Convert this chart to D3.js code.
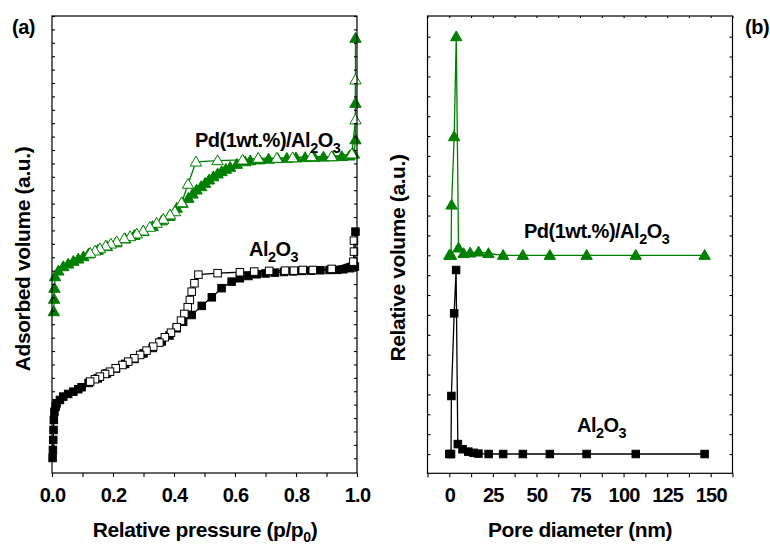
<!DOCTYPE html>
<html><head><meta charset="utf-8">
<script src="https://cdnjs.cloudflare.com/ajax/libs/d3/7.8.5/d3.min.js"></script>
<style>
body{margin:0;background:#fff;}
svg text{font-family:"Liberation Sans",Arial,sans-serif;font-weight:bold;fill:#000;}
</style></head><body>
<svg id="chart" width="770" height="544"></svg>
<script>
// ---- (a) N2 adsorption-desorption isotherms: relative pressure p/p0 vs adsorbed volume (a.u.)
const alAdsP = [0.002,0.003,0.004,0.005,0.006,0.008,0.012,0.015,0.026,0.037,0.053,0.07,0.086,0.097,0.12,0.15,0.18,0.21,0.24,0.27,0.30,0.33,0.36,0.385,0.409,0.43,0.458,0.491,0.524,0.556,0.589,0.616,0.644,0.671,0.70,0.73,0.76,0.79,0.82,0.85,0.88,0.91,0.935,0.955,0.977,0.993,0.995];
const alAdsV = [0.02,0.62,1.37,2.11,2.86,3.46,3.85,4.10,4.35,4.60,4.80,4.97,5.15,5.30,5.62,5.96,6.33,6.70,7.04,7.41,7.82,8.23,8.72,9.16,9.70,10.19,10.69,11.37,12.01,12.69,13.18,13.43,13.60,13.73,13.79,13.85,13.90,13.94,13.98,14.00,14.03,14.05,14.06,14.10,14.18,14.30,16.91];
const alDesP = [0.99,0.99,0.988,0.917,0.855,0.822,0.793,0.764,0.712,0.663,0.616,0.543,0.48,0.467,0.458,0.452,0.445,0.434,0.423,0.409,0.39,0.37,0.352,0.332,0.31,0.289,0.27,0.25,0.231,0.209,0.19,0.174,0.157,0.141,0.125];
const alDesV = [16.24,15.42,14.67,14.13,14.05,14.05,14.00,14.00,13.98,13.93,13.88,13.81,13.70,13.06,12.43,11.81,11.27,10.77,10.27,9.78,9.37,9.03,8.63,8.33,8.03,7.71,7.46,7.21,6.96,6.72,6.46,6.29,6.09,5.90,5.72];
const pdAdsP = [0.006,0.007,0.008,0.010,0.021,0.037,0.053,0.070,0.086,0.103,0.12,0.15,0.18,0.21,0.24,0.27,0.30,0.33,0.36,0.385,0.409,0.428,0.447,0.461,0.474,0.489,0.502,0.515,0.529,0.543,0.556,0.570,0.584,0.606,0.633,0.65,0.68,0.71,0.74,0.77,0.80,0.83,0.86,0.89,0.92,0.95,0.975,0.99,0.995,0.995,0.995];
const pdAdsV = [10.94,11.87,12.69,13.55,13.98,14.30,14.50,14.70,14.87,15.04,15.25,15.52,15.80,16.08,16.37,16.63,16.92,17.30,17.72,18.05,18.66,19.03,19.40,19.72,20.02,20.27,20.52,20.77,21.01,21.22,21.39,21.57,21.72,21.94,22.13,22.20,22.27,22.32,22.36,22.39,22.42,22.44,22.46,22.48,22.50,22.52,22.56,22.70,23.77,26.49,31.34];
const pdDesP = [0.995,0.995,0.983,0.917,0.851,0.789,0.737,0.676,0.625,0.543,0.472,0.446,0.425,0.403,0.387,0.365,0.343,0.321,0.299,0.278,0.256,0.237,0.212,0.193,0.176,0.157,0.141,0.125];
const pdDesV = [28.23,25.25,22.71,22.51,22.51,22.43,22.39,22.39,22.26,22.21,22.11,20.45,19.07,18.40,18.16,17.84,17.54,17.24,16.96,16.74,16.54,16.39,16.16,15.99,15.84,15.64,15.47,15.30];

// ---- (b) pore size distributions: pore diameter (nm) vs relative volume (a.u.)
const alPoreD = [0.0,1.0,1.2,2.8,3.9,4.9,7.6,10.9,14.0,16.7,22.6,30.9,42.2,57.7,78.8,107,146.5];
const alPoreV = [0,0,2.92,7.08,9.26,0.50,0.24,0.12,0.06,0.02,0,0,0,0,0,0,0];
const pdPoreD = [0.0,1.0,1.3,2.8,4.0,5.3,8.2,12.0,16.8,22.5,30.9,42.2,57.7,78.8,107,146.5];
const pdPoreV = [10,10,12.53,15.97,21.0,10.37,10.09,10.12,10.17,10.09,10,10,10,10,10,10];

// axis tick values and labels
const pressureTicks = d3.range(0, 11).map(i => i / 10);
const pressureLabels = [0, 0.2, 0.4, 0.6, 0.8, 1.0];
const diameterTicks = d3.range(-1, 14).map(i => i * 12.5);
const diameterLabels = [0, 25, 50, 75, 100, 125, 150];
const volumeTicksA = d3.range(0, 34);
const volumeTicksB = d3.range(0, 22);

const GREEN = "#008000";
const svg = d3.select("#chart");

const zip = (a, b) => a.map((v, i) => [v, b[i]]);

function frame(g, x0, x1, y0, y1) {
  g.append("rect").attr("x", x0).attr("y", y0).attr("width", x1 - x0).attr("height", y1 - y0)
    .attr("fill", "none").attr("stroke", "#000").attr("stroke-width", 1.2);
}

function styleAxis(sel) {
  sel.select(".domain").remove();
  sel.selectAll(".tick line").attr("stroke", "#000").attr("stroke-width", 1.1);
  sel.selectAll(".tick text").attr("font-size", 20).attr("letter-spacing", -0.8)
     .attr("font-family", "Liberation Sans, Arial, sans-serif").attr("font-weight", "bold");
}

function formula(g, x, y, parts, size) {
  const t = g.append("text").attr("x", x).attr("y", y).attr("font-size", size).attr("letter-spacing", -0.5);
  let shifted = false;
  parts.forEach(([s, sub]) => {
    const ts = t.append("tspan").text(s);
    if (sub && !shifted) { ts.attr("dy", 6).attr("font-size", size * 0.72); shifted = true; }
    else if (!sub && shifted) { ts.attr("dy", -6); shifted = false; }
    else if (sub) ts.attr("font-size", size * 0.72);
  });
  return t;
}

function squares(g, pts, x, y, fill, stroke, s) {
  g.selectAll(null).data(pts).enter().append("rect")
    .attr("x", d => x(d[0]) - s / 2).attr("y", d => y(d[1]) - s / 2)
    .attr("width", s).attr("height", s)
    .attr("fill", fill).attr("stroke", stroke).attr("stroke-width", 1);
}

const triPath = d3.symbol().type(d3.symbolTriangle).size(56);
function triangles(g, pts, x, y, fill, stroke) {
  g.selectAll(null).data(pts).enter().append("path")
    .attr("d", triPath)
    .attr("transform", d => `translate(${x(d[0])},${y(d[1]) + 0.8})`)
    .attr("fill", fill).attr("stroke", stroke).attr("stroke-width", 1);
}

function curve(g, pts, x, y, color) {
  g.append("path").datum(pts)
    .attr("d", d3.line().x(d => x(d[0])).y(d => y(d[1])))
    .attr("fill", "none").attr("stroke", color).attr("stroke-width", 1.3);
}

// ================= panel (a) =================
{
  const L = 52, R = 357, T = 16, B = 473;
  const x = d3.scaleLinear().domain([0, 1]).range([L, R]);
  const y = d3.scaleLinear().domain([-1.1, 33]).range([B, T]);
  const g = svg.append("g");

  const alAds = zip(alAdsP, alAdsV), alDes = zip(alDesP, alDesV);
  const pdAds = zip(pdAdsP, pdAdsV), pdDes = zip(pdDesP, pdDesV);

  curve(g, alAds, x, y, "#000");
  curve(g, alDes, x, y, "#000");
  curve(g, pdAds, x, y, GREEN);
  curve(g, pdDes, x, y, GREEN);
  squares(g, alAds, x, y, "#000", "#000", 7.5);
  squares(g, alDes, x, y, "#fff", "#000", 7.5);
  triangles(g, pdAds, x, y, GREEN, GREEN);
  triangles(g, pdDes, x, y, "#fff", GREEN);

  const xa = g.append("g").attr("transform", `translate(0,${B})`)
    .call(d3.axisBottom(x).tickValues(pressureTicks).tickSize(4).tickPadding(11)
      .tickFormat(d => pressureLabels.some(v => Math.abs(v - d) < 1e-9) ? d3.format(".1f")(d) : ""));
  styleAxis(xa);
  const yl = g.append("g").attr("transform", `translate(${L},0)`)
    .call(d3.axisLeft(y).tickValues(volumeTicksA).tickSize(-3).tickFormat(""));
  styleAxis(yl);
  const yr = g.append("g").attr("transform", `translate(${R},0)`)
    .call(d3.axisRight(y).tickValues(volumeTicksA).tickSize(-3).tickFormat(""));
  styleAxis(yr);
  frame(g, L, R, T, B);

  formula(g, 195, 147, [["Pd(1wt.%)/Al", false], ["2", true], ["O", false], ["3", true]], 20);
  formula(g, 249, 256, [["Al", false], ["2", true], ["O", false], ["3", true]], 20);

  g.append("text").attr("x", 12).attr("y", 34).attr("font-size", 20).attr("letter-spacing", -0.5).text("(a)");
  const xt = g.append("text").attr("x", 205).attr("y", 537).attr("text-anchor", "middle")
    .attr("font-size", 21).attr("letter-spacing", -0.4);
  xt.append("tspan").text("Relative pressure (p/p");
  xt.append("tspan").attr("dy", 5).attr("font-size", 14).text("0");
  xt.append("tspan").attr("dy", -5).text(")");
  g.append("text").attr("transform", "translate(30,259) rotate(-90)").attr("text-anchor", "middle")
    .attr("font-size", 21).attr("letter-spacing", -0.4).text("Adsorbed volume (a.u.)");
}

// ================= panel (b) =================
{
  const L = 427.5, R = 732.5, T = 16, B = 473.3;
  const x = d3.scaleLinear().domain([-12.5, 162.5]).range([L, R]);
  const y = d3.scaleLinear().domain([-0.97, 22.04]).range([B, T]);
  const g = svg.append("g");

  const al = zip(alPoreD, alPoreV), pd = zip(pdPoreD, pdPoreV);
  curve(g, pd, x, y, GREEN);
  curve(g, al, x, y, "#000");
  triangles(g, pd, x, y, GREEN, GREEN);
  squares(g, al, x, y, "#000", "#000", 7.5);

  const xa = g.append("g").attr("transform", `translate(0,${B})`)
    .call(d3.axisBottom(x).tickValues(diameterTicks).tickSize(4).tickPadding(11)
      .tickFormat(d => diameterLabels.includes(d) ? d : ""));
  styleAxis(xa);
  const xt2 = g.append("g").attr("transform", `translate(0,${T})`)
    .call(d3.axisTop(x).tickValues(diameterTicks).tickSize(-2).tickFormat(""));
  styleAxis(xt2);
  const yl = g.append("g").attr("transform", `translate(${L},0)`)
    .call(d3.axisLeft(y).tickValues(volumeTicksB).tickSize(-3).tickFormat(""));
  styleAxis(yl);
  const yr = g.append("g").attr("transform", `translate(${R},0)`)
    .call(d3.axisRight(y).tickValues(volumeTicksB).tickSize(-3).tickFormat(""));
  styleAxis(yr);
  frame(g, L, R, T, B);

  formula(g, 524, 238, [["Pd(1wt.%)/Al", false], ["2", true], ["O", false], ["3", true]], 20);
  formula(g, 577, 432, [["Al", false], ["2", true], ["O", false], ["3", true]], 20);

  g.append("text").attr("x", 745).attr("y", 34).attr("font-size", 20).attr("letter-spacing", -0.5).text("(b)");
  g.append("text").attr("x", 580).attr("y", 537).attr("text-anchor", "middle")
    .attr("font-size", 21).attr("letter-spacing", -0.4).text("Pore diameter (nm)");
  g.append("text").attr("transform", "translate(405,258) rotate(-90)").attr("text-anchor", "middle")
    .attr("font-size", 21).attr("letter-spacing", -0.4).text("Relative volume (a.u.)");
}
</script>
</body></html>
